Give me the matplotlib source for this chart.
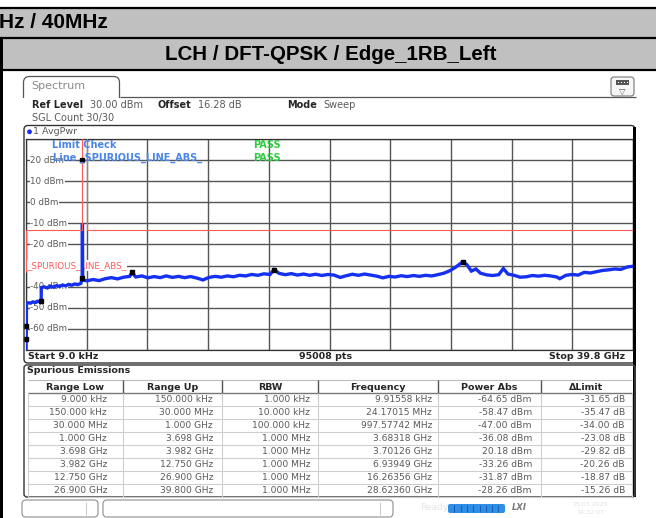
import matplotlib.pyplot as plt
from matplotlib.patches import Rectangle, FancyBboxPatch, Circle

W, H = 656, 518
SCREEN_FONT = "DejaVu Sans"
DOC_FONT = "Liberation Sans"
GRAY_TXT = "#5a5a5a"
DARK_TXT = "#262626"
TRACE_BLUE = "#1530ee"
LIMIT_RED = "#ff5a5a"
GRID = "#555555"

doc_title = "Hz / 40MHz"
test_title = "LCH / DFT-QPSK / Edge_1RB_Left"

start_ghz, stop_ghz = 9e-6, 39.8
ref_level, bottom_level = 30, -70
level_ticks = [20, 10, 0, -10, -20, -40, -50, -60]
limit_name = "_SPURIOUS_LINE_ABS_"
sweep_points = 95008

# averaged sweep trace (GHz, dBm)
trace_ghz = [
    0.000009, 0.0099, 0.024, 0.03, 0.15, 0.3, 0.45, 0.6, 0.75, 0.9, 0.998,
    1.0, 1.2, 1.4, 1.6, 1.8, 2.0, 2.2, 2.4, 2.6, 2.8, 3.0, 3.2, 3.4, 3.6, 3.683,
    3.70, 3.72,
    4.0, 4.4, 4.8, 5.2, 5.6, 6.0, 6.4, 6.8, 6.94, 7.2, 7.6, 8.0, 8.4, 8.8,
    9.2, 9.6, 10.0, 10.4, 10.8, 11.2, 11.6, 12.0, 12.4, 12.8, 13.2, 13.6,
    14.0, 14.4, 14.8, 15.2, 15.6, 16.0, 16.26, 16.6, 17.0, 17.4, 17.8, 18.2,
    18.6, 19.0, 19.4, 19.8, 20.2, 20.6, 21.0, 21.4, 21.8, 22.2, 22.6, 23.0,
    23.4, 23.8, 24.2, 24.6, 25.0, 25.4, 25.8, 26.2, 26.6, 27.0, 27.4, 27.8,
    28.2, 28.62, 28.9, 29.2, 29.5, 29.8, 30.2, 30.6, 31.0, 31.3, 31.6, 32.0,
    32.4, 32.8, 33.2, 33.6, 34.0, 34.4, 34.8, 35.0, 35.4, 35.8, 36.2, 36.6,
    37.0, 37.4, 37.8, 38.2, 38.6, 39.0, 39.4, 39.8,
]
trace_dbm = [
    -72.0, -64.65, -58.47, -47.9, -47.6, -47.8, -47.2, -47.5, -46.9, -47.1, -47.0,
    -40.4, -40.1, -40.6, -39.8, -40.2, -39.5, -39.9, -39.2, -39.6, -38.9, -39.3, -38.7, -39.0, -38.4, -36.08,
    -10.0, -36.9,
    -37.2, -36.6, -37.1, -36.2, -35.7, -36.3, -35.5, -35.1, -33.3, -35.4, -34.9, -35.8, -35.2, -35.7,
    -34.9, -35.6, -35.1, -35.7, -35.2, -35.9, -36.8, -35.6, -35.1, -35.5, -34.9, -35.3,
    -34.6, -34.9, -34.2, -34.6, -33.9, -34.2, -31.9, -33.7, -34.3, -33.8, -34.5, -34.0,
    -34.6, -34.1, -34.7, -34.2, -34.5, -35.6, -34.8, -34.1, -34.6, -34.0, -34.5, -35.0,
    -35.8, -35.1, -35.4, -34.8, -35.2, -34.7, -35.1, -34.6, -34.9, -34.3, -33.6, -32.4,
    -30.6, -28.26, -29.5, -32.6, -31.6, -33.6, -34.4, -34.7, -34.3, -31.4, -34.0, -34.6,
    -35.5, -35.3, -34.7, -35.0, -34.6, -34.9, -35.4, -36.2, -34.6, -34.2, -34.5, -33.2,
    -33.5, -32.9, -32.3, -32.0, -31.6, -31.8, -30.7, -30.3,
]

# spurious emissions table
range_low = ["9.000 kHz", "150.000 kHz", "30.000 MHz", "1.000 GHz",
             "3.698 GHz", "3.982 GHz", "12.750 GHz", "26.900 GHz"]
range_up = ["150.000 kHz", "30.000 MHz", "1.000 GHz", "3.698 GHz",
            "3.982 GHz", "12.750 GHz", "26.900 GHz", "39.800 GHz"]
rbw = ["1.000 kHz", "10.000 kHz", "100.000 kHz", "1.000 MHz",
       "1.000 MHz", "1.000 MHz", "1.000 MHz", "1.000 MHz"]
peak_freq = ["9.91558 kHz", "24.17015 MHz", "997.57742 MHz", "3.68318 GHz",
             "3.70126 GHz", "6.93949 GHz", "16.26356 GHz", "28.62360 GHz"]
power_abs = [-64.65, -58.47, -47.00, -36.08, 20.18, -33.26, -31.87, -28.26]
delta_limit = [-31.65, -35.47, -34.00, -23.08, -29.82, -20.26, -18.87, -15.26]
table_header = ["Range Low", "Range Up", "RBW", "Frequency", "Power Abs", "\u0394Limit"]


def ghz(s):
    value, unit = s.split()
    return float(value) * {"kHz": 1e-6, "MHz": 1e-3, "GHz": 1.0}[unit]


limit_edges = [ghz(s) for s in range_low] + [ghz(range_up[-1])]
limit_dbm = [p - d for p, d in zip(power_abs, delta_limit)]
peak_ghz = [ghz(s) for s in peak_freq]

fig = plt.figure(figsize=(W / 100, H / 100), dpi=100)

# ---- spectrum diagram ----
left, top, right, bottom = 26, 139, 633, 350
ax = fig.add_axes([left / W, 1 - bottom / H, (right - left) / W, (bottom - top) / H], zorder=1)
ax.set_xlim(start_ghz, stop_ghz)
ax.set_ylim(bottom_level, ref_level)
ax.set_xticks([start_ghz + i * (stop_ghz - start_ghz) / 10 for i in range(11)])
ax.set_yticks(range(bottom_level, ref_level + 1, 10))
ax.grid(color=GRID, lw=1.0)
ax.tick_params(length=0, labelbottom=False, labelleft=False)
for sp in ax.spines.values():
    sp.set_color("#333333")
    sp.set_linewidth(0.9)

ytr = ax.get_yaxis_transform()
for v in level_ticks:
    ax.text(0.007, v, f"{v} dBm", transform=ytr, va="center", ha="left",
            fontsize=6.3, color=GRAY_TXT, family=SCREEN_FONT, zorder=3,
            bbox=dict(fc="white", ec="none", pad=0.5))
ax.text(0.0015, -30, limit_name, transform=ytr, va="center", ha="left",
        fontsize=6.3, color=LIMIT_RED, family=SCREEN_FONT, zorder=3,
        bbox=dict(fc="white", ec="none", pad=0.5))

ax.plot(trace_ghz, trace_dbm, color=TRACE_BLUE, lw=2.4, zorder=4, solid_joinstyle="miter")
ax.stairs(limit_dbm, limit_edges, baseline=None, color=LIMIT_RED, lw=0.8, zorder=5)
ax.plot(peak_ghz, power_abs, "s", color="black", ms=2.4, zorder=6, clip_on=False)

# ---- everything around it, drawn in pixel coordinates ----
ov = fig.add_axes([0, 0, 1, 1], zorder=2)
ov.set_xlim(0, W)
ov.set_ylim(H, 0)
ov.axis("off")
ov.patch.set_alpha(0)


def txt(x, y, s, size=6.8, color=GRAY_TXT, weight="normal", ha="left", family=SCREEN_FONT, **kw):
    ov.text(x, y, s, fontsize=size, color=color, weight=weight, ha=ha, va="center",
            family=family, **kw)


def hline(y, x0, x1, color, lw=1.0):
    ov.plot([x0, x1], [y, y], color=color, lw=lw, solid_capstyle="butt")


def vline(x, y0, y1, color, lw=1.0):
    ov.plot([x, x], [y0, y1], color=color, lw=lw, solid_capstyle="butt")


# document table header rows
ov.add_patch(Rectangle((0, 7.5), W, 30, fc="#c0c0c0", ec="none"))
ov.add_patch(Rectangle((0, 39), W, 29.5, fc="#c0c0c0", ec="none"))
hline(7.5, 0, W, "black", 1.6)
hline(38, 0, W, "black", 1.6)
hline(69.5, 0, W, "black", 1.6)
ov.add_patch(Rectangle((0, 38), 2.5, H - 38, fc="black", ec="none"))
txt(-1, 22, doc_title, size=15, color="black", weight="bold", family=DOC_FONT)
txt(331, 54.5, test_title, size=14.8, color="black", weight="bold", ha="center", family=DOC_FONT)

# Spectrum tab and header line
ov.add_patch(FancyBboxPatch((23.5, 76.5), 96, 30, boxstyle="round,pad=0,rounding_size=6",
                            fc="white", ec="#555555", lw=0.9, zorder=1))
ov.add_patch(Rectangle((20, 97.5), 104, 14, fc="white", ec="none", zorder=1.5))
hline(97, 119.5, 636, "#555555", 0.9)
txt(31, 86, "Spectrum", size=8, color="#8a8a8a")
ov.add_patch(FancyBboxPatch((611, 77), 23, 19, boxstyle="round,pad=0,rounding_size=3",
                            fc="#f6f6f6", ec="#777777", lw=0.8))
ov.add_patch(Rectangle((616, 80), 13, 5, fc="#555555", ec="none"))
for dx in (618.5, 621.5, 624.5, 627.5):
    ov.add_patch(Rectangle((dx - 0.8, 81.6), 1.6, 1.8, fc="white", ec="none"))
txt(622.5, 91, "\u25bd", size=6, color="#555555", ha="center")

txt(32, 105, "Ref Level", size=7, color=DARK_TXT, weight="bold")
txt(90, 105, "30.00 dBm", size=7)
txt(158, 105, "Offset", size=7, color=DARK_TXT, weight="bold")
txt(198, 105, "16.28 dB", size=7)
txt(287, 105, "Mode", size=7, color=DARK_TXT, weight="bold")
txt(323, 105, "Sweep", size=7)
txt(32, 117.5, "SGL Count 30/30", size=7)

# diagram frame
ov.add_patch(FancyBboxPatch((24, 125.5), 611, 237.5, boxstyle="round,pad=0,rounding_size=4",
                            fc="none", ec="#333333", lw=1.0))
ov.add_patch(Rectangle((632.5, 127), 3.5, 370, fc="black", ec="none"))
ov.add_patch(Circle((29.5, 131.8), 2.4, fc="#1530ee", ec="none"))
txt(33, 131.8, "1 AvgPwr", size=6.8)
txt(52, 145.5, "Limit Check", size=7, color="#4a86e8", weight="bold")
txt(253, 145.5, "PASS", size=7, color="#2ecc40", weight="bold")
txt(53, 158.3, "Line " + limit_name, size=7, color="#4a86e8", weight="bold")
txt(253, 158.3, "PASS", size=7, color="#2ecc40", weight="bold")

txt(28, 356.5, "Start 9.0 kHz", size=6.8, color=DARK_TXT, weight="bold")
txt(326, 356.5, f"{sweep_points} pts", size=6.8, color=DARK_TXT, weight="bold", ha="center")
txt(625, 356.5, "Stop 39.8 GHz", size=6.8, color=DARK_TXT, weight="bold", ha="right")

# spurious emissions table
ov.add_patch(FancyBboxPatch((24, 365), 611, 132, boxstyle="round,pad=0,rounding_size=3",
                            fc="none", ec="#444444", lw=1.1))
txt(27, 370.5, "Spurious Emissions", size=6.8, color=DARK_TXT, weight="bold")
col_edges = [28, 123, 222, 318, 438, 541, 632]
text_right = [107, 213, 310, 432, 532, 625]
row_top, row_h = 393, 13
hline(380, 28, 632, "#bbbbbb", 0.8)
hline(row_top, 28, 632, "#777777", 1.0)
for x in col_edges[1:-1]:
    vline(x, 380, row_top, "#555555", 1.0)
for x0, x1, name in zip(col_edges[:-1], col_edges[1:], table_header):
    txt((x0 + x1) / 2, 387, name, size=6.8, color=DARK_TXT, weight="bold", ha="center")
n_rows = len(range_low)
for i in range(1, n_rows + 1):
    hline(row_top + i * row_h, 28, 632, "#cfcfcf", 0.8)
for x in col_edges:
    vline(x, row_top, row_top + n_rows * row_h, "#cfcfcf", 0.8)
for i in range(n_rows):
    y = row_top + (i + 0.5) * row_h
    cells = [range_low[i], range_up[i], rbw[i], peak_freq[i],
             f"{power_abs[i]:.2f} dBm", f"{delta_limit[i]:.2f} dB"]
    for xr, s in zip(text_right, cells):
        txt(xr, y, s, size=6.6, ha="right")

# status bar
ov.add_patch(FancyBboxPatch((22, 500), 76, 17, boxstyle="round,pad=0,rounding_size=4",
                            fc="white", ec="#9a9a9a", lw=0.9))
ov.add_patch(FancyBboxPatch((103, 500), 290, 17, boxstyle="round,pad=0,rounding_size=4",
                            fc="white", ec="#9a9a9a", lw=0.9))
vline(86, 502, 515, "#cccccc", 0.8)
vline(380, 502, 515, "#cccccc", 0.8)
txt(420, 508, "Ready", size=6.5, color="#e4e4e4")
ov.add_patch(FancyBboxPatch((448, 504), 57, 9, boxstyle="round,pad=0,rounding_size=2",
                            fc="#2f8fe8", ec="none"))
for k in range(1, 9):
    vline(448 + k * 6.3, 505, 512, "#1a5fb0", 0.8)
txt(512, 508, "LXI", size=6, color="#7a7a7a", weight="bold", style="italic")
txt(590, 504, "25.03.2025", size=4.5, color="#e0e0e0", ha="center")
txt(590, 512, "14:32:07", size=4.5, color="#e0e0e0", ha="center")

fig.savefig("out.png", dpi=100, facecolor="white")
